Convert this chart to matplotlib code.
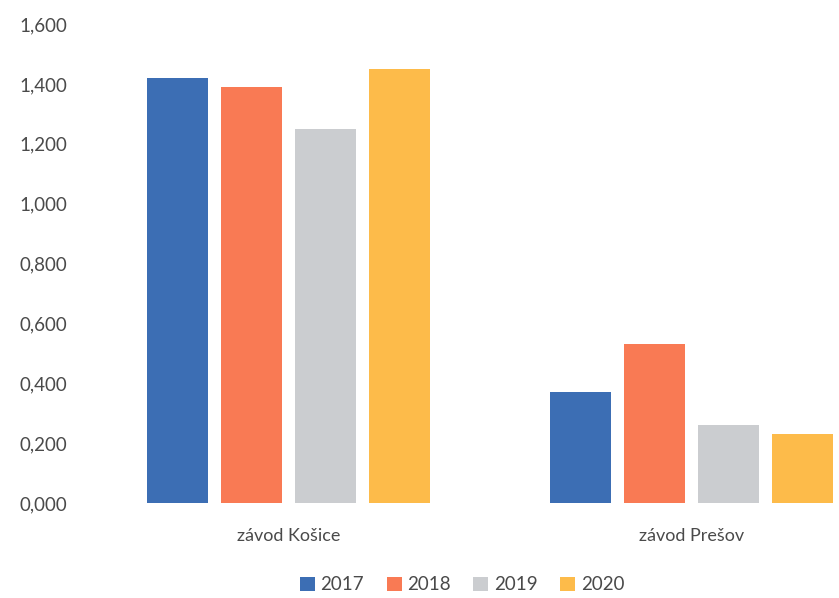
import numpy as np
import matplotlib.pyplot as plt
from matplotlib.ticker import FuncFormatter

plt.rcParams['font.family'] = ['Lato', 'DejaVu Sans']

categories = ["závod Košice", "závod Prešov"]
years = ["2017", "2018", "2019", "2020"]
values_2017 = [1.42, 0.37]
values_2018 = [1.39, 0.53]
values_2019 = [1.25, 0.26]
values_2020 = [1.45, 0.23]
colors = ["#3C6EB4", "#F97A54", "#CBCDD0", "#FDBB4A"]

series = [values_2017, values_2018, values_2019, values_2020]

fig = plt.figure(figsize=(8.39, 5.98), dpi=100)
# axes spans from x=95 px to the right edge, y from 503 px (zero) to 24 px (1.6)
ax = fig.add_axes([95 / 839, 1 - 503 / 598, 1 - 95 / 839, (503 - 24) / 598])

x = np.arange(len(categories))
slot = 0.1836
width = 0.151
for i, (vals, col, yr) in enumerate(zip(series, colors, years)):
    offs = (i - 1.5) * slot
    ax.bar(x + offs, vals, width=width, color=col, label=yr)

ax.set_xlim(-0.481, 1.365)
ax.set_ylim(0, 1.6)
ax.set_yticks(np.arange(0, 1.61, 0.2))
ax.yaxis.set_major_formatter(FuncFormatter(lambda v, p: f"{v:.3f}".replace(".", ",")))
ax.set_xticks(x)
ax.set_xticklabels(categories)
ax.tick_params(axis='y', length=0, pad=20, labelsize=13.5, labelcolor="#4a4a4a")
ax.tick_params(axis='x', length=0, pad=18, labelsize=13, labelcolor="#4a4a4a")
for s in ax.spines.values():
    s.set_visible(False)

ax.legend(loc="center", bbox_to_anchor=(462 / 839, 1 - 585 / 598),
          bbox_transform=fig.transFigure, ncol=4, frameon=False,
          fontsize=13.5, labelcolor="#4a4a4a", handlelength=0.8, handleheight=0.8,
          handletextpad=0.3, columnspacing=1.2)

fig.savefig("out.png", dpi=100, facecolor="white")
